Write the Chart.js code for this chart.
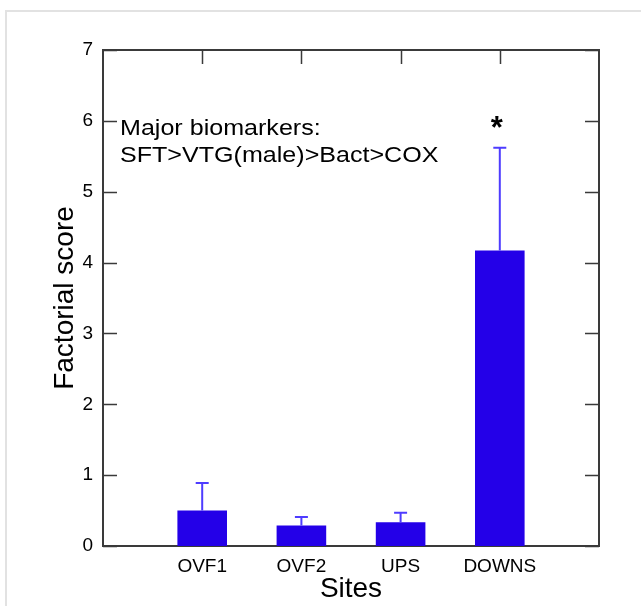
<!DOCTYPE html>
<html>
<head>
<meta charset="utf-8">
<script src="https://cdn.jsdelivr.net/npm/chart.js@4.4.1/dist/chart.umd.min.js"></script>
<style>
    html, body { margin: 0; padding: 0; background: #fff; }
    .wrap { position: relative; width: 641px; height: 606px; }
    .frame {
        position: absolute; left: 5px; top: 10px; right: -4px; bottom: -4px;
        border-left: 2px solid #e2e2e2; border-top: 2px solid #e2e2e2;
    }
    canvas { position: absolute; left: 0; top: 0; }
</style>
</head>
<body>
<div class="wrap">
    <div class="frame"></div>
    <canvas id="scoreChart" width="641" height="606"></canvas>
</div>
<script>
// Factorial score by site
const sites = ['OVF1', 'OVF2', 'UPS', 'DOWNS'];
const siteX = [1, 2, 3, 4];
const meanScore = [0.50, 0.29, 0.335, 4.17];
const errUpper = [0.39, 0.12, 0.135, 1.45];
const yTicks = [0, 1, 2, 3, 4, 5, 6, 7];
const noteLines = ['Major biomarkers:', 'SFT>VTG(male)>Bact>COX'];
const markedSites = ['DOWNS'];

const BAR_COLOR = '#2400e8';
const ERR_COLOR = '#4e3cff';
const AXIS_COLOR = '#3a3a3a';
const FONT = 'Arial, "Liberation Sans", sans-serif';

// Box around the plot with inward ticks on every side
const framePlugin = {
    id: 'frame',
    beforeDatasetsDraw(chart) {
        const { ctx, chartArea: a, scales: { x, y } } = chart;
        const tick = 14;
        ctx.save();
        ctx.strokeStyle = AXIS_COLOR;
        ctx.lineWidth = 2;
        ctx.strokeRect(a.left, a.top, a.right - a.left, a.bottom - a.top);
        ctx.lineWidth = 1.5;
        ctx.beginPath();
        yTicks.forEach(v => {
            const py = Math.round(y.getPixelForValue(v)) + 0.5;
            ctx.moveTo(a.left, py); ctx.lineTo(a.left + tick, py);
            ctx.moveTo(a.right, py); ctx.lineTo(a.right - tick, py);
        });
        siteX.forEach(v => {
            const px = Math.round(x.getPixelForValue(v)) + 0.5;
            ctx.moveTo(px, a.top); ctx.lineTo(px, a.top + tick);
            ctx.moveTo(px, a.bottom); ctx.lineTo(px, a.bottom - tick);
        });
        ctx.stroke();
        ctx.restore();
    }
};

// Upper error whiskers, significance marks and the note text
const annotatePlugin = {
    id: 'annotate',
    afterDatasetsDraw(chart) {
        const { ctx, chartArea: a, scales: { x, y } } = chart;
        ctx.save();
        ctx.strokeStyle = ERR_COLOR;
        ctx.lineWidth = 2;
        const cap = 6.5;
        meanScore.forEach((m, i) => {
            const px = x.getPixelForValue(siteX[i]);
            const y0 = y.getPixelForValue(m);
            const y1 = y.getPixelForValue(m + errUpper[i]);
            ctx.beginPath();
            ctx.moveTo(px, y0); ctx.lineTo(px, y1);
            ctx.moveTo(px - cap, y1); ctx.lineTo(px + cap, y1);
            ctx.stroke();
        });

        ctx.fillStyle = '#000';
        ctx.textAlign = 'center';
        ctx.textBaseline = 'alphabetic';
        ctx.font = 'bold 31px ' + FONT;
        markedSites.forEach(name => {
            const i = sites.indexOf(name);
            const px = x.getPixelForValue(siteX[i]) - 3;
            const top = y.getPixelForValue(meanScore[i] + errUpper[i]);
            ctx.fillText('*', px, top - 10);
        });

        // note text is set a little wide
        ctx.textAlign = 'left';
        ctx.font = '22px ' + FONT;
        const sx = 1.14;
        ctx.scale(sx, 1);
        noteLines.forEach((line, k) => {
            ctx.fillText(line, (a.left + 17) / sx, a.top + 85 + k * 26.7);
        });
        ctx.restore();
    }
};

new Chart(document.getElementById('scoreChart'), {
    type: 'bar',
    data: {
        datasets: [{
            data: siteX.map((v, i) => ({ x: v, y: meanScore[i] })),
            backgroundColor: BAR_COLOR,
            borderWidth: 0,
            barPercentage: 0.5,
            categoryPercentage: 1
        }]
    },
    options: {
        responsive: false,
        animation: false,
        layout: { padding: { left: 0, top: 50, right: 42, bottom: 0 } },
        plugins: {
            legend: { display: false },
            tooltip: { enabled: false }
        },
        scales: {
            x: {
                type: 'linear',
                offset: false,
                min: 0,
                max: 5,
                afterFit(scale) { scale.height = 60; },
                afterBuildTicks(scale) {
                    scale.ticks = [0, ...siteX, 5].map(v => ({ value: v }));
                },
                ticks: {
                    autoSkip: false,
                    maxRotation: 0,
                    padding: 9,
                    color: '#000',
                    font: { family: FONT, size: 19 },
                    callback: v => sites[siteX.indexOf(v)] || ''
                },
                grid: { display: false, drawTicks: false },
                border: { display: false },
                title: {
                    display: true,
                    text: 'Sites',
                    color: '#000',
                    font: { family: FONT, size: 28 },
                    padding: { top: 0, bottom: 0 }
                }
            },
            y: {
                min: 0,
                max: 7,
                afterFit(scale) { scale.width = 103; },
                afterBuildTicks(scale) {
                    scale.ticks = yTicks.map(v => ({ value: v }));
                },
                ticks: {
                    padding: 10,
                    color: '#000',
                    font: { family: FONT, size: 19 }
                },
                grid: { display: false, drawTicks: false },
                border: { display: false },
                title: {
                    display: true,
                    text: 'Factorial score',
                    color: '#000',
                    font: { family: FONT, size: 28 },
                    padding: { top: 48, bottom: 0 }
                }
            }
        }
    },
    plugins: [framePlugin, annotatePlugin]
});
</script>
</body>
</html>
